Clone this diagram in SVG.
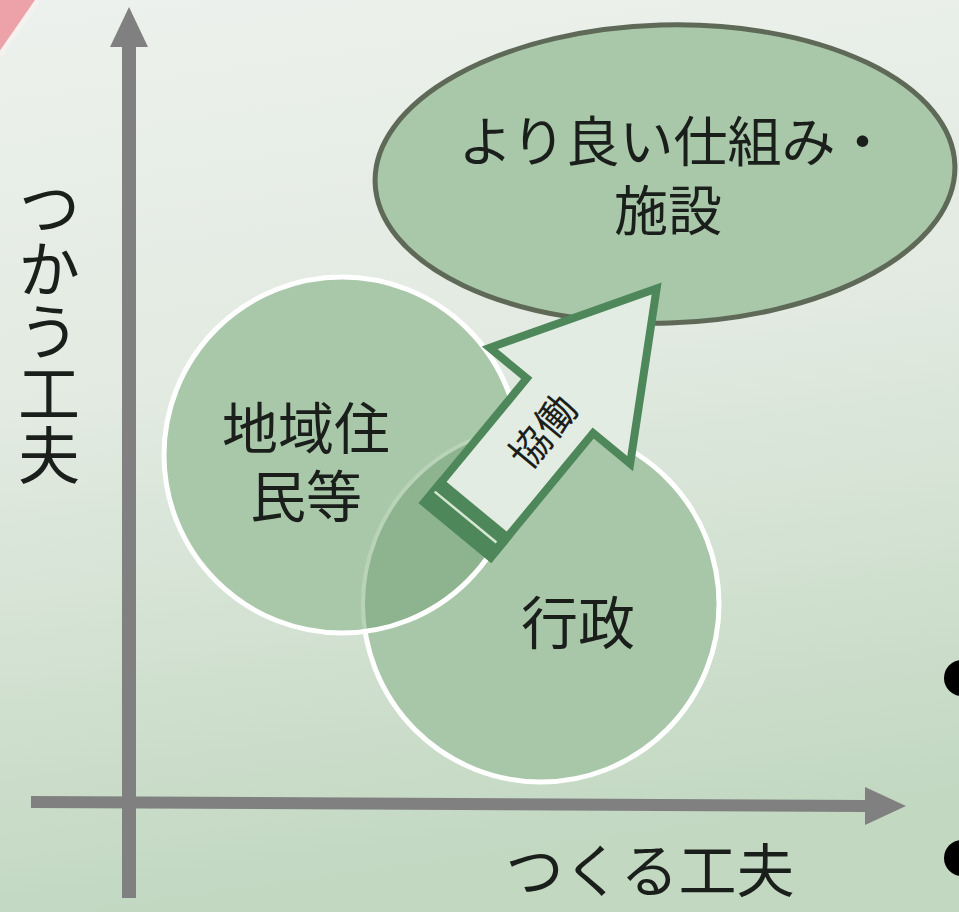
<svg xmlns="http://www.w3.org/2000/svg" width="959" height="912" viewBox="0 0 959 912">
  <defs>
    <linearGradient id="bg" x1="0" y1="0" x2="0.15" y2="1">
      <stop offset="0" stop-color="#edf1ed"/>
      <stop offset="0.45" stop-color="#e2eae1"/>
      <stop offset="1" stop-color="#c2d8c1"/>
    </linearGradient>
    <clipPath id="clipGyosei">
      <circle cx="541" cy="604" r="178"/>
    </clipPath>
    <clipPath id="clipChiiki">
      <circle cx="342" cy="455" r="178"/>
    </clipPath>
    <style>
      .lbl { font-family: "Noto Sans CJK JP", "Noto Sans CJK SC", sans-serif; fill: #1b1f1b; text-anchor: middle; }
      .vert { font-family: "Noto Sans CJK JP", "Noto Sans CJK SC", sans-serif; fill: #1b1f1b; writing-mode: vertical-rl; text-anchor: start; }
      .axis { fill: #808080; }
      .circ { fill: #a8c7a8; stroke: #ffffff; stroke-width: 5; }
    </style>
  </defs>

  <rect x="0" y="0" width="959" height="912" fill="url(#bg)"/>
  <polygon points="0,0 36,0 0,52" fill="#eca2a8"/>
  <line x1="38" y1="0" x2="0" y2="55" stroke="#f4f1ef" stroke-width="5"/>

  <g id="axes">
    <rect class="axis" x="122" y="45" width="14" height="853"/>
    <polygon class="axis" points="129,7 148,47 110,47"/>
    <polygon class="axis" points="31,796 866,800 866,812 31,808"/>
    <polygon class="axis" points="906,806 865,787 865,825"/>
  </g>

  <g id="bullets">
    <circle cx="962" cy="678" r="18" fill="#000"/>
    <circle cx="962" cy="858" r="18" fill="#000"/>
  </g>

  <g id="node-goal">
    <ellipse cx="665" cy="174" rx="290" ry="149" transform="rotate(-1.7 665 174)" fill="#a9c8a9" stroke="#5e6957" stroke-width="5"/>
    <text class="lbl" font-size="54"><tspan x="674" y="162">より良い仕組み・</tspan><tspan x="668" y="231">施設</tspan></text>
  </g>

  <g id="node-gyosei">
    <circle class="circ" cx="541" cy="604" r="178"/>
    <text class="lbl" x="578" y="644" font-size="57">行政</text>
  </g>

  <g id="node-chiiki">
    <circle cx="342" cy="455" r="178" fill="#a9c8a9"/>
    <circle cx="342" cy="455" r="178" fill="#8db48e" clip-path="url(#clipGyosei)"/>
    <circle cx="541" cy="604" r="178" fill="none" stroke="#b9d3b8" stroke-width="4" clip-path="url(#clipChiiki)"/>
    <circle cx="342" cy="455" r="178" fill="none" stroke="#ffffff" stroke-width="5"/>
    <text class="lbl" font-size="56"><tspan x="306" y="449">地域住</tspan><tspan x="306" y="517">民等</tspan></text>
  </g>

  <g id="connectors">
    <g id="arrow-kyodo" transform="translate(455 533) rotate(-50.5)">
      <polygon points="4,-43 165,-43 165,-91 317,0 165,91 165,43 4,43" fill="#e3ece2" stroke="#4e875a" stroke-width="8" stroke-linejoin="miter"/>
      <rect x="0" y="-47" width="34" height="94" fill="#4e875a"/>
      <line x1="19" y1="-42" x2="19" y2="38" stroke="#d6e7d2" stroke-width="2.5"/>
      <text class="lbl" x="134" y="18" font-size="40">協働</text>
    </g>
  </g>

  <g id="axis-labels">
    <text class="vert" x="49" y="176" font-size="62">つかう工夫</text>
    <text class="lbl" x="650" y="892" font-size="58">つくる工夫</text>
  </g>
</svg>
